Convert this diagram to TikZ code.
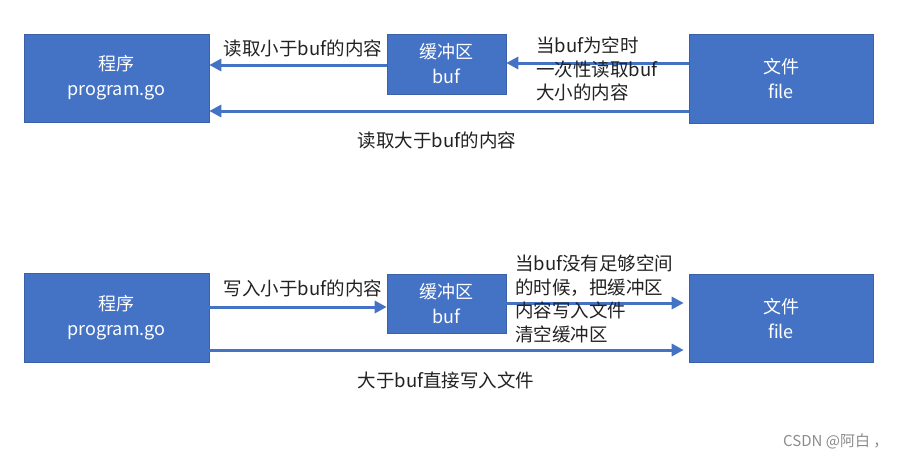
\documentclass[tikz,border=0pt]{standalone}
\usepackage{fontspec}
\setmainfont{Noto Sans CJK SC}
\usetikzlibrary{arrows.meta,calc}
\definecolor{boxblue}{HTML}{4472C4}
\definecolor{txt}{HTML}{222222}
\begin{document}
\begin{tikzpicture}[x=1pt,y=-1pt,
  blk/.style={fill=boxblue,draw=boxblue!85!black,line width=0.6pt,text=white,align=center,inner sep=0pt,
    font=\fontsize{18}{25}\selectfont},
  flow/.style={draw=boxblue,line width=3pt,-{Triangle[length=12pt,width=12pt]},shorten >=0pt},
  lbl/.style={text=txt,inner sep=0pt,font=\fontsize{18.5}{23.5}\selectfont},
  mlbl/.style={lbl,align=left,anchor=north west}]
\useasboundingbox (0,0) rectangle (922,461);
\fill[white] (0,0) rectangle (922,461);
% top row
\node[blk,minimum width=185pt,minimum height=88pt] (p1) at (116.5,78) {程序\\program.go};
\node[blk,minimum width=119pt,minimum height=60pt] (b1) at (446.5,64) {缓冲区\\buf};
\node[blk,minimum width=184pt,minimum height=89pt] (f1) at (781,78.5) {文件\\file};
\coordinate (t1) at (0,65);
\coordinate (t2) at (0,63);
\coordinate (t3) at (0,111);
\draw[flow] (b1.west |- t1) -- (p1.east |- t1);
\draw[flow] (f1.west |- t2) -- (b1.east |- t2);
\draw[flow] (f1.west |- t3) -- (p1.east |- t3);
\node[lbl] (l1) at (303,48) {读取小于buf的内容};
\node[mlbl] (l2) at (536,37) {当buf为空时\\一次性读取buf\\大小的内容};
\node[lbl] (l3) at (437,140) {读取大于buf的内容};
% bottom row
\node[blk,minimum width=185pt,minimum height=89pt] (p2) at (116.5,317.5) {程序\\program.go};
\node[blk,minimum width=119pt,minimum height=59pt] (b2) at (446.5,303.5) {缓冲区\\buf};
\node[blk,minimum width=184pt,minimum height=88pt] (f2) at (781,318) {文件\\file};
\coordinate (s1) at (0,307);
\coordinate (s2) at (0,303);
\coordinate (s3) at (0,350);
\draw[flow] (p2.east |- s1) -- (b2.west |- s1);
\draw[flow,shorten >=5pt] (b2.east |- s2) -- (f2.west |- s2);
\draw[flow,shorten >=5pt] (p2.east |- s3) -- (f2.west |- s3);
\node[lbl] (l4) at (303,288) {写入小于buf的内容};
\node[mlbl] (l5) at (515,255) {当buf没有足够空间\\的时候，把缓冲区\\内容写入文件\\清空缓冲区};
\node[lbl] (l6) at (446,380) {大于buf直接写入文件};
% watermark
\node[text=black!45,inner sep=0pt,anchor=west,font=\fontsize{15}{17}\selectfont] (wm) at (783,441) {CSDN @阿白 ，};
\end{tikzpicture}
\end{document}
